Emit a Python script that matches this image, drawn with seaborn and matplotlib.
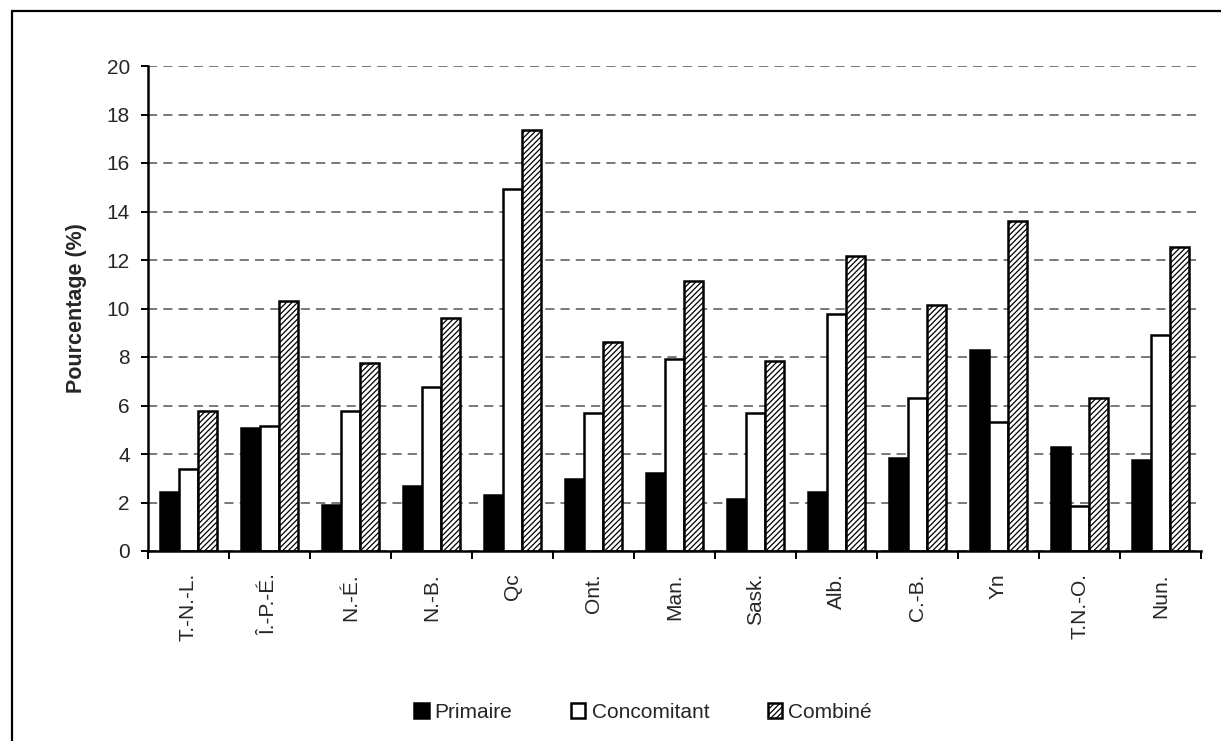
import matplotlib
matplotlib.use("Agg")
import matplotlib.pyplot as plt
from matplotlib.patches import Rectangle
import seaborn as sns
import pandas as pd
import numpy as np

# Régions (provinces et territoires)
regions = ["T.-N.-L.", "Î.-P.-É.", "N.-É.", "N.-B.", "Qc", "Ont.", "Man.",
           "Sask.", "Alb.", "C.-B.", "Yn", "T.N.-O.", "Nun."]
series_names = ["Primaire", "Concomitant", "Combiné"]

primaire = [2.42, 5.08, 1.88, 2.68, 2.32, 2.96, 3.22, 2.14, 2.42, 3.84, 8.29, 4.29, 3.74]
concomitant = [3.37, 5.15, 5.79, 6.75, 14.94, 5.68, 7.90, 5.68, 9.77, 6.30, 5.32, 1.87, 8.91]
combine = [5.77, 10.31, 7.74, 9.60, 17.36, 8.63, 11.13, 7.84, 12.18, 10.14, 13.60, 6.31, 12.55]

y_ticks = list(range(0, 21, 2))

df = pd.DataFrame({
    "Région": regions * 3,
    "Pourcentage": primaire + concomitant + combine,
    "Type": [s for s in series_names for _ in regions],
})

sns.set_theme(style="white")
plt.rcParams["font.family"] = ["Liberation Sans", "DejaVu Sans"]
plt.rcParams["hatch.linewidth"] = 0.9
plt.rcParams["hatch.color"] = "#4d4d4d"

fig = plt.figure(figsize=(12.21, 7.41), dpi=100)
ax = fig.add_axes([148 / 1221, 1 - 551 / 741, (1201 - 148) / 1221, (551 - 66) / 741])

sns.barplot(data=df, x="Région", y="Pourcentage", hue="Type",
            palette=["black", "white", "white"], edgecolor="black",
            linewidth=1.8, width=0.71, gap=0, saturation=1, ax=ax,
            legend=False)

# Hachures pour la série combinée
for patch in ax.containers[2].patches:
    patch.set_hatch("//////")

ax.set_ylim(0, 20)
ax.set_xlim(-0.5, len(regions) - 0.5)
ax.set_yticks(y_ticks)
ax.set_axisbelow(True)
ax.yaxis.grid(True, color="#555555", linestyle=(0, (6, 4)), linewidth=1.1)
ax.xaxis.grid(False)

for side in ["top", "right"]:
    ax.spines[side].set_visible(False)
for side in ["left", "bottom"]:
    ax.spines[side].set_color("black")
    ax.spines[side].set_linewidth(1.8)

ax.tick_params(axis="y", which="major", direction="out", length=5, width=1.4,
               color="black", left=True, labelsize=15, pad=8)
# Étiquettes au centre, graduations aux limites des catégories
ax.set_xticks(np.arange(len(regions)))
ax.set_xticklabels(regions, rotation=90, fontsize=15)
ax.tick_params(axis="x", which="major", length=0, pad=16)
ax.set_xticks(np.arange(len(regions) + 1) - 0.5, minor=True)
ax.tick_params(axis="x", which="minor", direction="out", length=6, width=1.4,
               color="black", bottom=True)

ax.set_xlabel("")
ax.set_ylabel("Pourcentage (%)", fontsize=15.5, fontweight="bold", labelpad=14)

leg = ax.legend(ax.containers, series_names, loc="center",
                bbox_to_anchor=(643 / 1221, 1 - 712 / 741),
                bbox_transform=fig.transFigure, ncol=3, frameon=False,
                fontsize=15, handlelength=0.7, handleheight=0.7,
                handletextpad=0.3, columnspacing=2.8)

# Cadre de la figure
fig.patches.append(Rectangle((12 / 1221, -0.1), 1.2, 1.1 - 11 / 741,
                             transform=fig.transFigure, fill=False,
                             edgecolor="black", linewidth=1.6))

fig.savefig("out.png", dpi=100)
